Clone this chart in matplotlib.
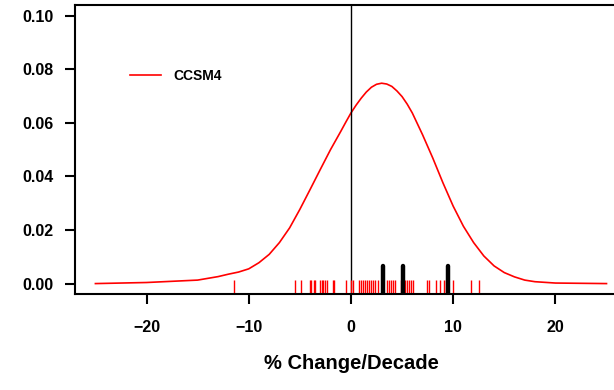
import numpy as np
import matplotlib
matplotlib.use("Agg")
import matplotlib.pyplot as plt

plt.rcParams['font.family'] = ['Liberation Sans', 'DejaVu Sans']
plt.rcParams['font.weight'] = 'bold'

# density curve
curve_x = [-25, -20, -15, -13, -12, -11, -10, -9, -8, -7, -6, -5, -4, -3, -2, -1,
           -0.5, 0, 0.5, 1, 1.5, 2, 2.5, 3, 3.5, 4, 4.5, 5, 5.5, 6, 7, 8, 9, 10,
           11, 12, 13, 14, 15, 16, 17, 18, 20, 25]
curve_y = [0.0, 0.0004, 0.0013, 0.0026, 0.0035, 0.0043, 0.0055, 0.0078, 0.0109,
           0.0153, 0.0208, 0.0277, 0.0351, 0.0426, 0.0500, 0.0568, 0.0603, 0.0637,
           0.0666, 0.0692, 0.0715, 0.0733, 0.0744, 0.0748, 0.0745, 0.0736, 0.0719,
           0.0698, 0.0670, 0.0637, 0.0556, 0.0469, 0.0376, 0.0289, 0.0214, 0.0153,
           0.0103, 0.0066, 0.0041, 0.0025, 0.0013, 0.0007, 0.0002, 0.0]

# individual members (red rug) and observations (black rug)
members = [-11.4, -5.5, -4.9, -4.0, -3.9, -3.6, -3.5, -3.0, -2.8, -2.7, -2.5, -2.3,
           -1.8, -1.7, -0.45, 0.05, 0.2, 0.8, 1.0, 1.2, 1.4, 1.6, 1.8, 2.0, 2.2, 2.4,
           2.6, 3.5, 3.7, 3.9, 4.1, 4.3, 4.9, 5.3, 5.5, 5.7, 5.9, 6.1, 7.45, 7.65, 8.3,
           8.7, 9.1, 9.3, 10.0, 11.75, 12.5]
obs = [3.1, 5.1, 9.45]

xticks = [-20, -10, 0, 10, 20]
yticks = [0.00, 0.02, 0.04, 0.06, 0.08, 0.10]

fig = plt.figure(figsize=(6.14, 3.9), dpi=100)
ax = fig.add_axes([0.1221, 0.2454, 0.899, 0.7418])

ax.plot(curve_x, curve_y, color='red', lw=1.2, label='CCSM4')
ax.axvline(0, color='black', lw=1.0)

ax.vlines(members, 0, 0.048, color='red', lw=1.0,
          transform=ax.get_xaxis_transform())
obs_lines = ax.vlines(obs, 0, 0.097, color='black', lw=3.2,
                      transform=ax.get_xaxis_transform())
obs_lines.set_capstyle('round')

ax.set_xlim(-27, 27)
ax.set_ylim(-0.004, 0.104)
ax.set_xticks(xticks)
ax.set_xticklabels(['\u2212' + str(abs(t)) if t < 0 else str(t) for t in xticks])
ax.set_yticks(yticks)
ax.set_yticklabels(['%.2f' % t for t in yticks])
ax.tick_params(axis='both', labelsize=11.5, width=1.5, length=7.5)
ax.tick_params(axis='x', pad=11)
ax.tick_params(axis='y', pad=8)
for s in ax.spines.values():
    s.set_linewidth(1.5)

ax.set_xlabel('% Change/Decade', fontsize=14.5, fontweight='bold', labelpad=14)

ax.legend(loc='center left', bbox_to_anchor=(130 / 614, 1 - 75.7 / 390),
          bbox_transform=fig.transFigure, frameon=False, borderpad=0,
          borderaxespad=0, handlelength=2.2, handletextpad=0.95,
          prop={'size': 10, 'weight': 'bold'})

fig.savefig('out.png', dpi=100)
